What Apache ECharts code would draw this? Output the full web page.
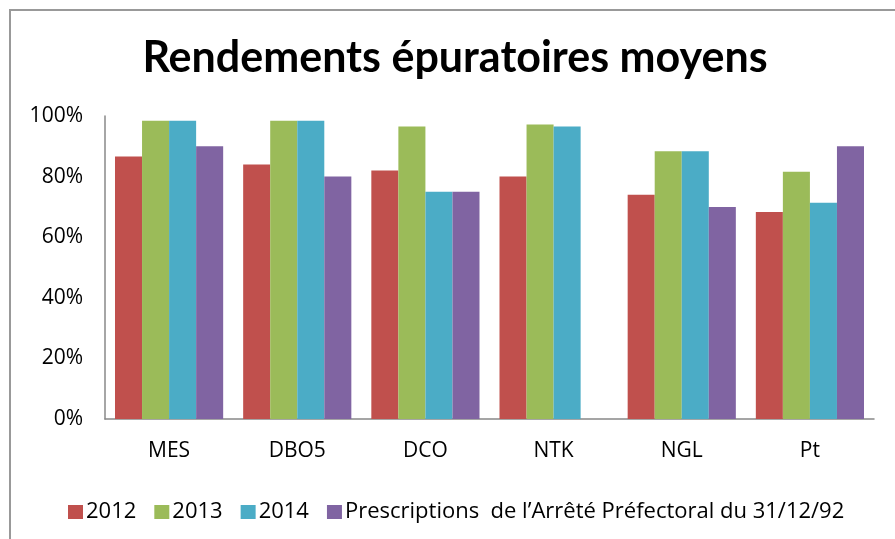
<!DOCTYPE html>
<html>
<head>
<meta charset="utf-8">
<script src="https://cdn.jsdelivr.net/npm/echarts@6/dist/echarts.min.js"></script>
<style>html,body{margin:0;padding:0;background:#fff;}#c{width:895px;height:539px;}</style>
</head>
<body>
<div id="c"></div>
<script>
const categories = ['MES', 'DBO5', 'DCO', 'NTK', 'NGL', 'Pt'];
const seriesNames = ['2012', '2013', '2014', 'Prescriptions  de l\u2019Arrêté Préfectoral du 31/12/92'];
const v2012 = [86.6, 84, 82, 80, 74, 68.3];
const v2013 = [98.4, 98.4, 96.5, 97.2, 88.4, 81.6];
const v2014 = [98.4, 98.4, 75, 96.5, 88.4, 71.4];
const vPresc = [90, 80, 75, null, 70, 90];
const yTicks = [0, 20, 40, 60, 80, 100];

const colors = ['#C0504D', '#9BBB59', '#4BACC6', '#8064A2'];
const allValues = [v2012, v2013, v2014, vPresc];
const FONT = 'Open Sans';

const chart = echarts.init(document.getElementById('c'));
chart.setOption({
  animation: false,
  backgroundColor: '#fff',
  textStyle: { fontFamily: FONT },
  title: {
    text: 'Rendements épuratoires moyens',
    left: 450, textAlign: 'center', top: 32,
    textStyle: { fontFamily: 'Lato', fontWeight: 'bold', fontSize: 43, color: '#000' }
  },
  graphic: [{
    type: 'rect', silent: true,
    shape: { x: 10, y: 10, width: 900, height: 600 },
    style: { fill: 'none', stroke: '#999', lineWidth: 2 }
  }],
  legend: {
    data: seriesNames,
    left: 63, top: 496, width: 830,
    itemWidth: 15, itemHeight: 14, itemGap: 18,
    icon: 'rect',
    textStyle: { fontFamily: FONT, fontSize: 22, color: '#000', padding: [0, 0, 0, -2] }
  },
  grid: { left: 105, right: 21, top: 116, bottom: 120, containLabel: false },
  xAxis: {
    type: 'category', data: categories,
    axisLine: { lineStyle: { color: '#888', width: 1.5 } },
    axisTick: { show: false },
    axisLabel: { fontFamily: FONT, fontSize: 21, color: '#000', margin: 22 }
  },
  yAxis: {
    type: 'value', min: yTicks[0], max: yTicks[yTicks.length - 1], interval: 20,
    axisLine: { show: true, lineStyle: { color: '#888', width: 1.5 } },
    axisTick: { show: false },
    splitLine: { show: false },
    axisLabel: { fontFamily: FONT, fontSize: 21, color: '#000', margin: 22, formatter: v => v + '%' }
  },
  series: seriesNames.map((n, i) => ({
    name: n, type: 'bar', data: allValues[i],
    barGap: '0%', barCategoryGap: '15.6%',
    itemStyle: { color: colors[i] }
  }))
});
</script>
</body>
</html>
